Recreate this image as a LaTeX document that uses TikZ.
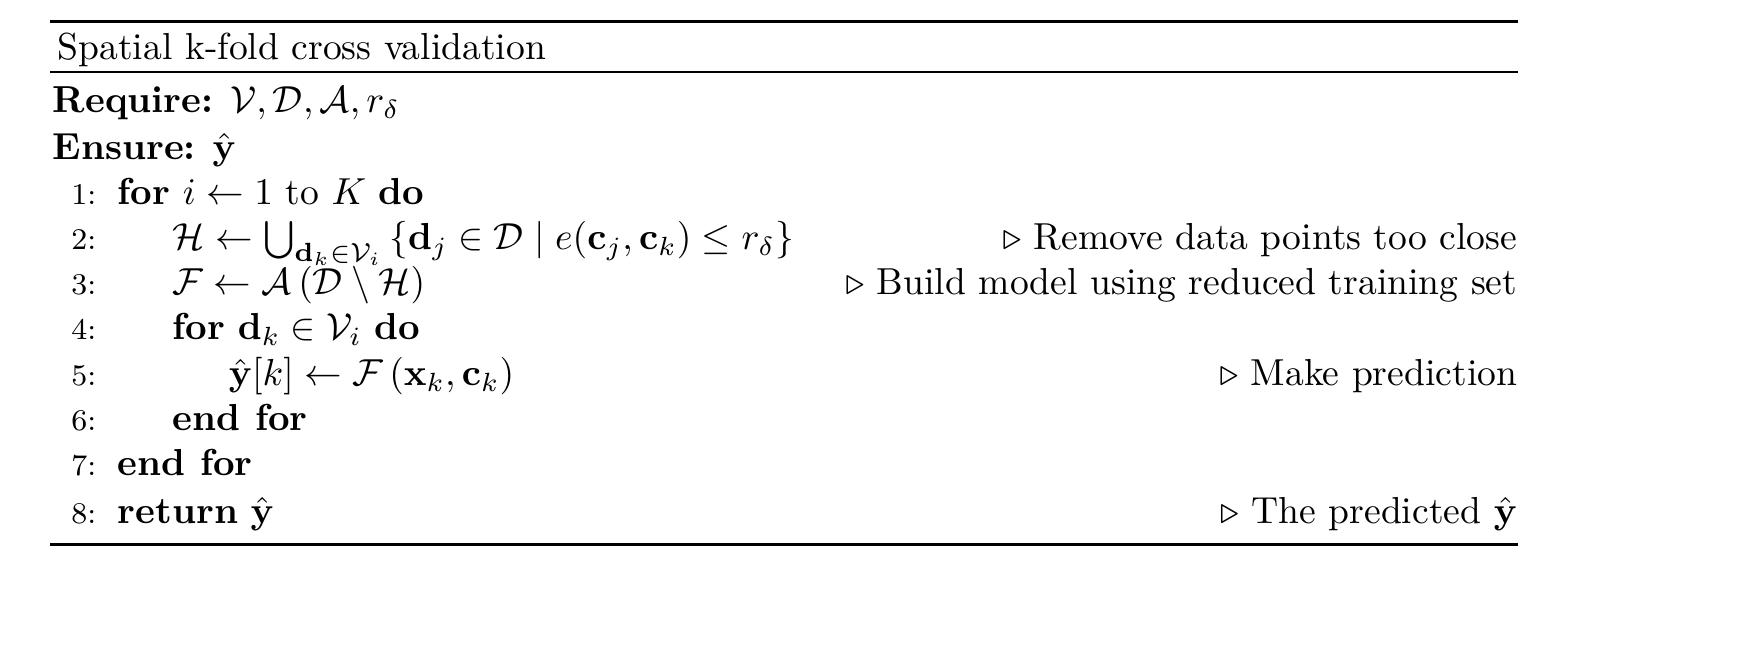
\documentclass[tikz,border=0pt]{standalone}
\usepackage{amsmath,amssymb}
\begin{document}
\begin{tikzpicture}[x=0.266pt,y=-0.266pt,
  txt/.style={inner sep=0pt,anchor=base west,font=\fontsize{10}{12}\selectfont},
  num/.style={inner sep=0pt,anchor=base east,font=\fontsize{8}{9.5}\selectfont},
  cmt/.style={inner sep=0pt,anchor=base east,font=\fontsize{10}{12}\selectfont}]
\useasboundingbox (0,0) rectangle (1763,649);
\coordinate (tl) at (50,22); \coordinate (tr) at (1518,22);
\coordinate (ml) at (50,72); \coordinate (mr) at (1518,72);
\coordinate (bl) at (50,545); \coordinate (br) at (1518,545);
\draw[line width=0.8pt] (tl) -- (tr);
\draw[line width=0.5pt] (ml) -- (mr);
\draw[line width=0.8pt] (bl) -- (br);
\node[txt] (cap) at (57,60) {Spatial k-fold cross validation};
\node[txt] (req) at (52,113) {\textbf{Require:} $\mathcal{V},\mathcal{D},\mathcal{A},r_\delta$};
\node[txt] (ens) at (52,160) {\textbf{Ensure:} $\hat{\mathbf{y}}$};
\node[num] (n1) at (97,205) {1:};
\node[num] (n2) at (97,250) {2:};
\node[num] (n3) at (97,295) {3:};
\node[num] (n4) at (97,340) {4:};
\node[num] (n5) at (97,386) {5:};
\node[num] (n6) at (97,431) {6:};
\node[num] (n7) at (97,476) {7:};
\node[num] (n8) at (97,524) {8:};
\node[txt] (l1) at (117,205) {\textbf{for} $i \leftarrow 1$ to $K$ \textbf{do}};
\node[txt] (l2) at (172,250) {$\mathcal{H} \leftarrow \bigcup_{\mathbf{d}_k\in\mathcal{V}_i}\left\{\mathbf{d}_j\in\mathcal{D}\mid e(\mathbf{c}_j,\mathbf{c}_k)\leq r_\delta\right\}$};
\node[txt] (l3) at (172,295) {$\mathcal{F} \leftarrow \mathcal{A}\left(\mathcal{D}\setminus\mathcal{H}\right)$};
\node[txt] (l4) at (172,340) {\textbf{for} $\mathbf{d}_k\in\mathcal{V}_i$ \textbf{do}};
\node[txt] (l5) at (228,386) {$\hat{\mathbf{y}}[k] \leftarrow \mathcal{F}\left(\mathbf{x}_k,\mathbf{c}_k\right)$};
\node[txt] (l6) at (172,431) {\textbf{end for}};
\node[txt] (l7) at (117,476) {\textbf{end for}};
\node[txt] (l8) at (117,524) {\textbf{return} $\hat{\mathbf{y}}$};
\node[cmt] (c2) at (1518,250) {$\triangleright$ Remove data points too close};
\node[cmt] (c3) at (1518,295) {$\triangleright$ Build model using reduced training set};
\node[cmt] (c5) at (1518,386) {$\triangleright$ Make prediction};
\node[cmt] (c8) at (1518,524) {$\triangleright$ The predicted $\hat{\mathbf{y}}$};
\end{tikzpicture}
\end{document}
